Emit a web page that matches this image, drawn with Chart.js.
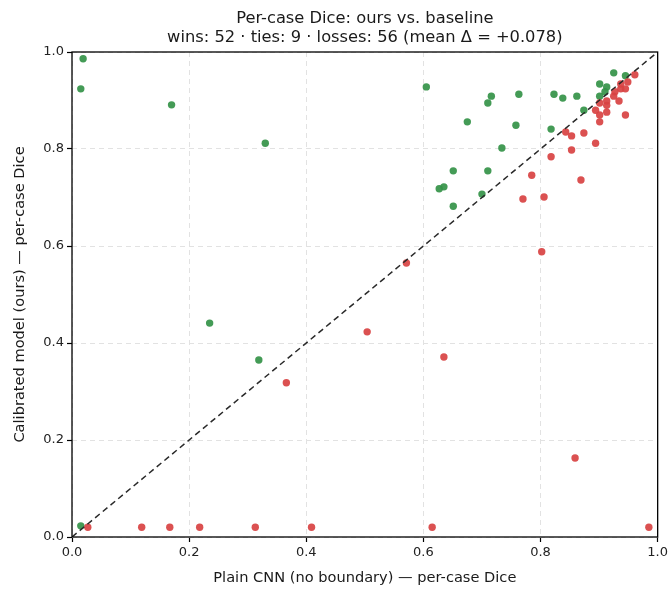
<!DOCTYPE html>
<html>
<head>
<meta charset="utf-8">
<script src="https://cdn.jsdelivr.net/npm/chart.js@4/dist/chart.umd.min.js"></script>
<style>
    html, body { margin: 0; padding: 0; background: #fff; }
    #wrap { width: 671px; height: 589px; }
</style>
</head>
<body>
<div id="wrap"><canvas id="chart" width="671" height="589"></canvas></div>
<script>
// wins: ours better than baseline (green)
const winsX = [0.019, 0.015, 0.170, 0.330, 0.605, 0.235, 0.319, 0.015, 0.716, 0.710,
    0.763, 0.675, 0.758, 0.734, 0.651, 0.710, 0.627, 0.635, 0.700, 0.651,
    0.818, 0.823, 0.838, 0.862, 0.874, 0.901, 0.913, 0.910, 0.901, 0.925, 0.945];
const winsY = [0.986, 0.924, 0.891, 0.812, 0.928, 0.441, 0.365, 0.023, 0.909, 0.895,
    0.913, 0.856, 0.849, 0.802, 0.755, 0.755, 0.718, 0.722, 0.707, 0.682,
    0.841, 0.913, 0.905, 0.909, 0.880, 0.934, 0.928, 0.918, 0.909, 0.957, 0.951];

// losses: ours worse than baseline (red)
const lossX = [0.961, 0.937, 0.949, 0.937, 0.945, 0.927, 0.925, 0.913, 0.913, 0.901,
    0.934, 0.894, 0.913, 0.901, 0.945, 0.901, 0.853, 0.874, 0.843, 0.894,
    0.853, 0.818, 0.785, 0.869, 0.770, 0.806, 0.802, 0.859, 0.366, 0.504,
    0.635, 0.571, 0.027, 0.119, 0.167, 0.218, 0.313, 0.409, 0.615, 0.985];
const lossY = [0.953, 0.934, 0.938, 0.924, 0.924, 0.918, 0.909, 0.899, 0.890, 0.895,
    0.899, 0.880, 0.876, 0.870, 0.870, 0.856, 0.827, 0.833, 0.835, 0.812,
    0.798, 0.784, 0.746, 0.736, 0.697, 0.701, 0.588, 0.163, 0.318, 0.423,
    0.371, 0.565, 0.020, 0.020, 0.020, 0.020, 0.020, 0.020, 0.020, 0.020];

const tickValues = [0.0, 0.2, 0.4, 0.6, 0.8, 1.0];
const titleLines = ['Per-case Dice: ours vs. baseline', 'wins: 52 · ties: 9 · losses: 56 (mean Δ = +0.078)'];
const xLabel = 'Plain CNN (no boundary) — per-case Dice';
const yLabel = 'Calibrated model (ours) — per-case Dice';

const FONT = '"DejaVu Sans", sans-serif';

function toPoints(xs, ys) {
    return xs.map((x, i) => ({x: x, y: ys[i]}));
}

// frame + title drawn around the chart area
const framePlugin = {
    id: 'frame',
    afterDraw(chart) {
        const {ctx, chartArea: a} = chart;
        ctx.save();
        ctx.strokeStyle = '#000';
        ctx.lineWidth = 1.3;
        ctx.strokeRect(a.left, a.top, a.right - a.left, a.bottom - a.top);
        ctx.fillStyle = '#1a1a1a';
        ctx.font = '16.3px ' + FONT;
        ctx.textAlign = 'center';
        ctx.textBaseline = 'middle';
        const cx = (a.left + a.right) / 2;
        ctx.fillText(titleLines[0], cx, 19);
        ctx.fillText(titleLines[1], cx, 38);
        ctx.restore();
    }
};

function axisOpts(label, isX) {
    return {
        type: 'linear',
        min: 0,
        max: 1,
        afterBuildTicks: s => { s.ticks = tickValues.map(v => ({value: v})); },
        afterFit: s => {
            if (isX) s.height = 52; else s.width = 72;
        },
        ticks: {
            color: '#222',
            font: {family: FONT, size: 13},
            padding: 3,
            callback: v => v.toFixed(1)
        },
        grid: {
            color: '#e2e2e2',
            lineWidth: 1,
            tickColor: '#000',
            tickLength: 5,
            tickWidth: 1.2,
            tickBorderDash: []
        },
        border: {display: false, dash: [5, 4]},
        title: {
            display: true,
            text: label,
            color: '#1a1a1a',
            font: {family: FONT, size: 14.6},
            padding: isX ? {top: 0, bottom: 2} : {top: 11, bottom: 0}
        }
    };
}

new Chart(document.getElementById('chart').getContext('2d'), {
    type: 'scatter',
    data: {
        datasets: [
            {
                type: 'line',
                data: [{x: 0, y: 0}, {x: 1, y: 1}],
                borderColor: '#2a2a2a',
                borderWidth: 1.5,
                borderDash: [6, 4],
                pointRadius: 0,
                fill: false,
                order: 0
            },
            {
                label: 'wins',
                data: toPoints(winsX, winsY),
                backgroundColor: 'rgba(52, 146, 72, 0.92)',
                borderWidth: 0,
                pointRadius: 3.7,
                order: 2
            },
            {
                label: 'losses',
                data: toPoints(lossX, lossY),
                backgroundColor: 'rgba(216, 66, 66, 0.92)',
                borderWidth: 0,
                pointRadius: 3.7,
                order: 1
            }
        ]
    },
    options: {
        responsive: false,
        animation: false,
        layout: {padding: {left: 0, right: 12, top: 52, bottom: 0}},
        plugins: {
            legend: {display: false},
            tooltip: {enabled: false}
        },
        scales: {
            x: axisOpts(xLabel, true),
            y: axisOpts(yLabel, false)
        }
    },
    plugins: [framePlugin]
});
</script>
</body>
</html>
